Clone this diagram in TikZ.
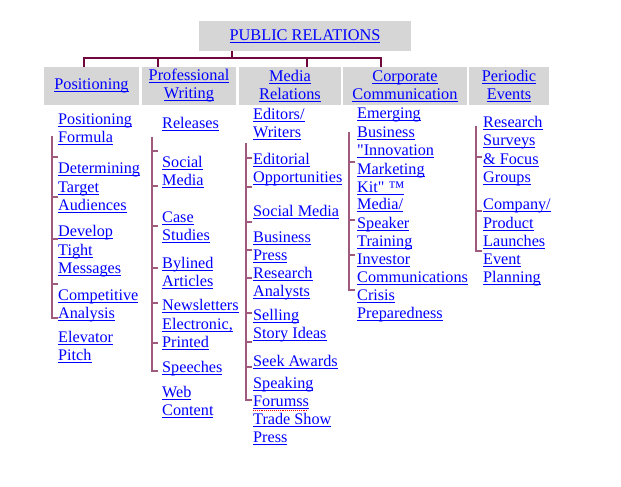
\documentclass[tikz,border=0pt]{standalone}
\usepackage{fontspec}
\setmainfont{Liberation Serif}
\usepackage{tikz}
\usetikzlibrary{positioning}
\definecolor{granate}{RGB}{112, 8, 62}
\definecolor{rosado}{RGB}{160, 90, 125}
\definecolor{gris}{RGB}{214, 214, 214}
\definecolor{enlace}{RGB}{0, 0, 255}
\newcommand\lnk[1]{\setbox0=\hbox{#1}\rlap{\rule[-2.4pt]{\wd0}{0.9pt}}\box0}
\tikzset{
    hdr/.style={rectangle, fill=gris, text=enlace, align=center, inner sep=0pt, font=\fontsize{16.3}{18}\selectfont},
    itm/.style={anchor=base west, yshift=-1.5pt, text=enlace, align=left, inner sep=0pt, font=\fontsize{16.2}{18.4}\selectfont},
    conn/.style={-, granate, line width=2.6pt},
    tck/.style={-, rosado, line width=1.1pt},
}

\begin{document}
\begin{tikzpicture}[x=1pt, y=-1pt]
        \useasboundingbox (0,0) rectangle (621,487);

        % header boxes
        \node [hdr, minimum width=212, minimum height=30] (pr) at (305,36) {\lnk{PUBLIC RELATIONS}};
        \node [hdr, minimum width=95, minimum height=37] (pos) at (91.5,86) {\lnk{Positioning}};
        \node [hdr, minimum width=94, minimum height=37] (prof) at (189,86) {\lnk{Professional}\\\lnk{Writing}};
        \node [hdr, minimum width=102, minimum height=37] (media) at (290,86) {\lnk{Media}\\\lnk{Relations}};
        \node [hdr, minimum width=124, minimum height=37] (corp) at (405,86) {\lnk{Corporate}\\\lnk{Communication}};
        \node [hdr, minimum width=80, minimum height=37] (per) at (509,86) {\lnk{Periodic}\\\lnk{Events}};

        \coordinate (b0) at (232,58);
        \coordinate (b1) at (84,58);
        \coordinate (b2) at (158,58);
        \coordinate (b3) at (307,58);
        \coordinate (b4) at (381,58);

        \draw[conn] (b1 |- pos.north) -- (b1) -- (b4) -- (b4 |- corp.north);
        \draw[conn] (b2) -- (b2 |- prof.north);
        \draw[conn] (b3) -- (b3 |- media.north);
        \draw[conn] (b0) -- (b0 |- pr.south);

        % positioning (placed by the baseline of the last line)
        \node [itm] (p1) at (58,141) {\lnk{Positioning}\\\lnk{Formula}};
        \node [itm] (p2) at (58,209) {\lnk{Determining}\\\lnk{Target}\\\lnk{Audiences}};
        \node [itm] (p3) at (58,272) {\lnk{Develop}\\\lnk{Tight}\\\lnk{Messages}};
        \node [itm] (p4) at (58,317) {\lnk{Competitive}\\\lnk{Analysis}};
        \node [itm] (p5) at (58,359) {\lnk{Elevator}\\\lnk{Pitch}};

        % professional writing
        \node [itm] (w1) at (162,127) {\lnk{Releases}};
        \node [itm] (w2) at (162,184) {\lnk{Social}\\\lnk{Media}};
        \node [itm] (w3) at (162,239) {\lnk{Case}\\\lnk{Studies}};
        \node [itm] (w4) at (162,285) {\lnk{Bylined}\\\lnk{Articles}};
        \node [itm] (w5) at (162,346) {\lnk{Newsletters}\\\lnk{Electronic,}\\\lnk{Printed}};
        \node [itm] (w6) at (162,371) {\lnk{Speeches}};
        \node [itm] (w7) at (162,414) {\lnk{Web}\\\lnk{Content}};

        % media relations
        \node [itm] (m1) at (253,136) {\lnk{Editors/}\\\lnk{Writers}};
        \node [itm] (m2) at (253,181) {\lnk{Editorial}\\\lnk{Opportunities}};
        \node [itm] (m3) at (253,215) {\lnk{Social Media}};
        \node [itm] (m4) at (253,259) {\lnk{Business}\\\lnk{Press}};
        \node [itm] (m5) at (253,295) {\lnk{Research}\\\lnk{Analysts}};
        \node [itm] (m6) at (253,337) {\lnk{Selling}\\\lnk{Story Ideas}};
        \node [itm] (m7) at (253,365) {\lnk{Seek Awards}};
        \node [itm] (m8) at (253,405) {\lnk{Speaking}\\\lnk{Forumss}};
        \node [itm] (m9) at (253,441) {\lnk{Trade Show}\\\lnk{Press}};
        \draw[red, densely dotted, line width=1.1pt] (253,410.5) -- (307,410.5);

        % corporate communication
        \node [itm] (c1) at (357,191) {\lnk{Emerging}\\\lnk{Business}\\\lnk{\textquotedbl Innovation}\\\lnk{Marketing}\\\lnk{Kit\textquotedbl\ ™}};
        \node [itm] (c2) at (357,245) {\lnk{Media/}\\\lnk{Speaker}\\\lnk{Training}};
        \node [itm] (c3) at (357,281) {\lnk{Investor}\\\lnk{Communications}};
        \node [itm] (c4) at (357,317) {\lnk{Crisis}\\\lnk{Preparedness}};

        % periodic events
        \node [itm] (e1) at (483,181) {\lnk{Research}\\\lnk{Surveys}\\\lnk{\& Focus}\\\lnk{Groups}};
        \node [itm] (e2) at (483,245) {\lnk{Company/}\\\lnk{Product}\\\lnk{Launches}};
        \node [itm] (e3) at (483,281) {\lnk{Event}\\\lnk{Planning}};

        % tick lines
        \draw[tck] (52,136) -- (52,318) -- ++(5.5,0);
        \foreach \y in {157,197,239,284} \draw[tck] (52,\y) -- ++(5.5,0);
        \draw[tck] (152,137) -- (152,371) -- ++(5.5,0);
        \foreach \y in {151,186,226,268,303,343} \draw[tck] (152,\y) -- ++(5.5,0);
        \draw[tck] (246,143) -- (246,400) -- ++(5.5,0);
        \foreach \y in {158,187,222,250,278,313,342,367} \draw[tck] (246,\y) -- ++(5.5,0);
        \draw[tck] (349,132) -- (349,290) -- ++(5.5,0);
        \foreach \y in {162,220,255} \draw[tck] (349,\y) -- ++(5.5,0);
        \draw[tck] (476,126) -- (476,251) -- ++(5.5,0);
        \foreach \y in {157,211} \draw[tck] (476,\y) -- ++(5.5,0);
\end{tikzpicture}
\end{document}
